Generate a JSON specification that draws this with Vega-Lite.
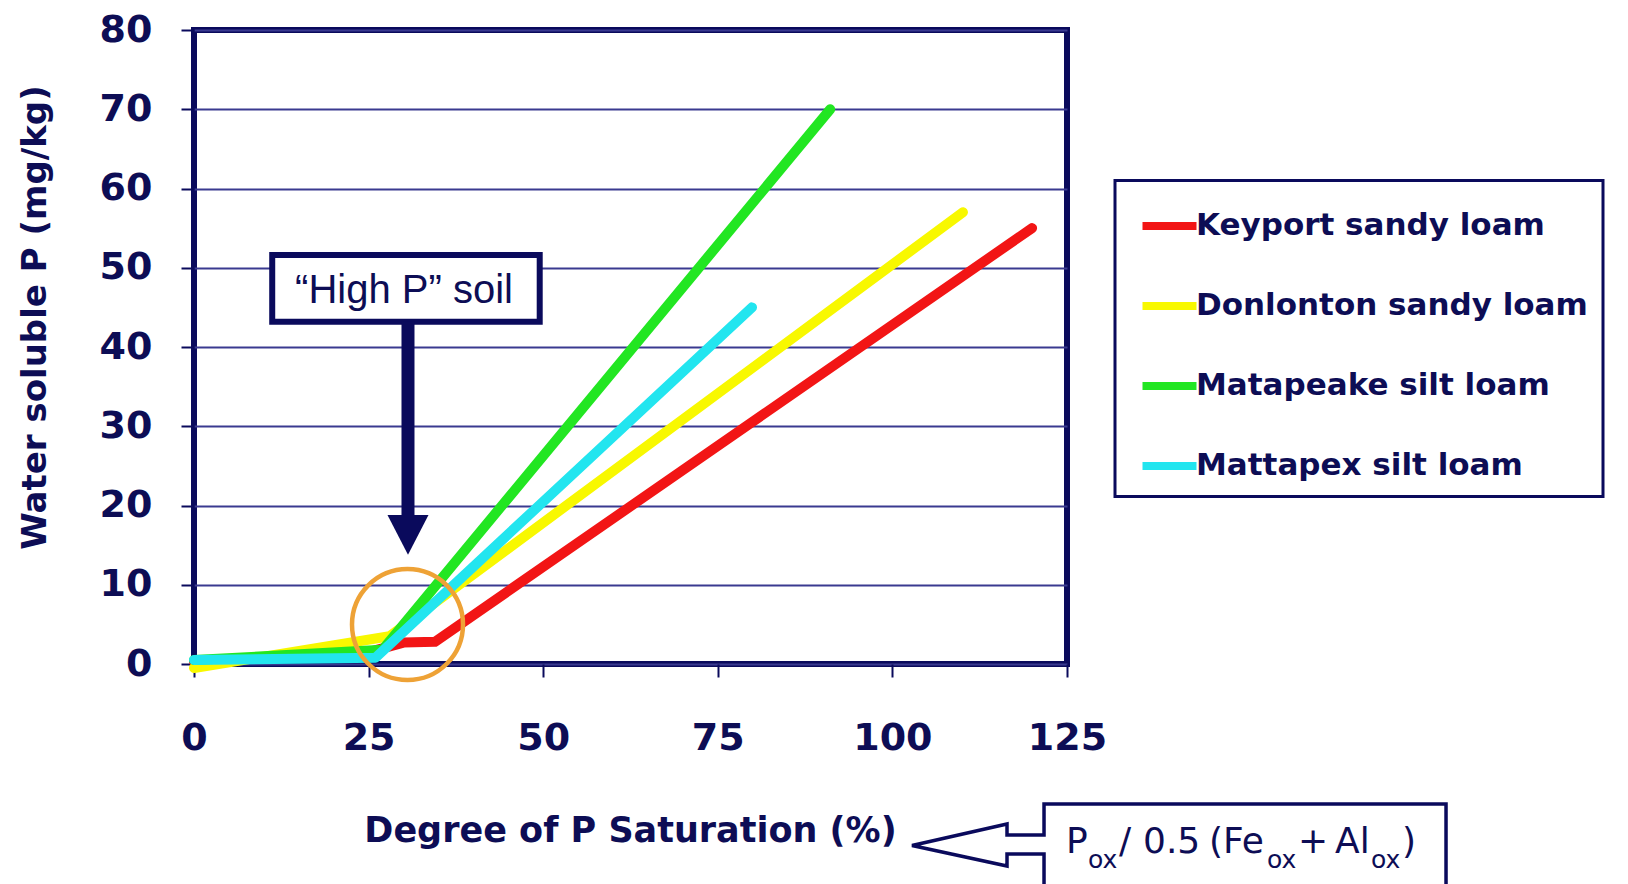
{
  "$schema": "https://vega.github.io/schema/vega-lite/v6.json",
  "width": 873,
  "height": 634,
  "autosize": {"type": "none"},
  "padding": {"left": 194, "top": 30, "right": 561, "bottom": 220},
  "background": "white",
  "config": {
    "view": {"stroke": "#0a0a5c", "strokeWidth": 6},
    "axis": {
      "domain": false,
      "tickColor": "#0a0a5c",
      "tickWidth": 2,
      "tickSize": 13,
      "labelFont": "DejaVu Sans",
      "labelFontWeight": "bold",
      "labelFontSize": 38,
      "labelColor": "#0d0d55",
      "titleFont": "DejaVu Sans",
      "titleFontWeight": "bold",
      "titleColor": "#0d0d55"
    },
    "legend": {"strokeWidth": 3}
  },
  "datasets": {
    "soil": [
      {"soil": "Keyport sandy loam", "x": 0, "y": 0.3},
      {"soil": "Keyport sandy loam", "x": 25, "y": 1.5},
      {"soil": "Keyport sandy loam", "x": 30, "y": 2.7},
      {"soil": "Keyport sandy loam", "x": 34.5, "y": 2.8},
      {"soil": "Keyport sandy loam", "x": 120, "y": 55},
      {"soil": "Donlonton sandy loam", "x": 0, "y": -0.5},
      {"soil": "Donlonton sandy loam", "x": 28, "y": 3.5},
      {"soil": "Donlonton sandy loam", "x": 110.1, "y": 57},
      {"soil": "Matapeake silt loam", "x": 0, "y": 0.5},
      {"soil": "Matapeake silt loam", "x": 27, "y": 1.8},
      {"soil": "Matapeake silt loam", "x": 91.1, "y": 70},
      {"soil": "Mattapex silt loam", "x": 0, "y": 0.5},
      {"soil": "Mattapex silt loam", "x": 26, "y": 0.8},
      {"soil": "Mattapex silt loam", "x": 79.9, "y": 45}
    ],
    "outline": [
      {"i": 1, "x": 121.71, "y": -29.15},
      {"i": 2, "x": 121.71, "y": -23.97},
      {"i": 3, "x": 116.41, "y": -23.97},
      {"i": 4, "x": 116.41, "y": -25.49},
      {"i": 5, "x": 102.81, "y": -22.9},
      {"i": 6, "x": 116.41, "y": -20.19},
      {"i": 7, "x": 116.41, "y": -21.58},
      {"i": 8, "x": 121.71, "y": -21.58},
      {"i": 9, "x": 121.71, "y": -17.67},
      {"i": 10, "x": 179.27, "y": -17.67},
      {"i": 11, "x": 179.27, "y": -29.15}
    ],
    "formulaMain": [
      {"x": 124.86, "y": -23.8, "label": "P"},
      {"x": 132.45, "y": -23.8, "label": "/"},
      {"x": 135.88, "y": -23.8, "label": "0.5"},
      {"x": 145.33, "y": -23.8, "label": "(Fe"},
      {"x": 158.08, "y": -23.8, "label": "+"},
      {"x": 163.38, "y": -23.8, "label": "Al"},
      {"x": 172.97, "y": -23.8, "label": ")"}
    ],
    "formulaSub": [
      {"x": 128.01, "y": -25.7, "label": "ox"},
      {"x": 153.64, "y": -25.7, "label": "ox"},
      {"x": 168.53, "y": -25.7, "label": "ox"}
    ]
  },
  "layer": [
    {
      "data": {"name": "soil"},
      "mark": {"type": "line", "strokeWidth": 10, "strokeCap": "round", "strokeJoin": "round"},
      "encoding": {
        "x": {
          "field": "x", "type": "quantitative",
          "scale": {"domain": [0, 125], "nice": false, "zero": false},
          "axis": {
            "values": [0, 25, 50, 75, 100, 125],
            "grid": false,
            "labelFlush": false,
            "title": "Degree of P Saturation (%)",
            "titleFontSize": 35,
            "titleX": 436,
            "titleY": 177,
            "titleAlign": "center",
            "titleBaseline": "alphabetic",
            "labelPadding": 42,
            "labelBaseline": "top"
          }
        },
        "y": {
          "field": "y", "type": "quantitative",
          "scale": {"domain": [0, 80], "nice": false, "zero": false},
          "axis": {
            "values": [0, 10, 20, 30, 40, 50, 60, 70, 80],
            "grid": true,
            "gridColor": "#3a3a90",
            "gridWidth": 1.8,
            "gridOpacity": 1,
            "labelFlush": false,
            "title": "Water soluble P (mg/kg)",
            "titleFontSize": 34,
            "titleX": -149,
            "titleY": 287,
            "titleAngle": 270,
            "titleAlign": "center",
            "titleBaseline": "alphabetic",
            "labelPadding": 29
          }
        },
        "color": {
          "field": "soil", "type": "nominal",
          "scale": {
            "domain": ["Keyport sandy loam", "Donlonton sandy loam", "Matapeake silt loam", "Mattapex silt loam"],
            "range": ["#f21515", "#f8f800", "#22e622", "#22e5ef"]
          },
          "legend": {
            "orient": "none",
            "legendX": 921,
            "legendY": 150.5,
            "title": null,
            "symbolType": "stroke",
            "symbolSize": 2916,
            "symbolStrokeWidth": 8,
            "symbolOffset": 9,
            "labelOffset": -4.5,
            "labelFont": "DejaVu Sans",
            "labelFontWeight": "bold",
            "labelFontSize": 31,
            "labelColor": "#0d0d55",
            "labelLimit": 600,
            "padding": 14.5,
            "rowPadding": 33,
            "strokeColor": "#0a0a5c",
            "fillColor": "white"
          }
        }
      }
    },
    {
      "data": {"values": [{"x": 11.2, "x2": 49.5, "y": 51.6, "y2": 43.2}]},
      "mark": {"type": "rect", "fill": "white", "stroke": "#0a0a5c", "strokeWidth": 6},
      "encoding": {
        "x": {"field": "x", "type": "quantitative"},
        "x2": {"field": "x2"},
        "y": {"field": "y", "type": "quantitative"},
        "y2": {"field": "y2"}
      }
    },
    {
      "data": {"values": [{"x": 30.07, "y": 45.55, "label": "“High P” soil"}]},
      "mark": {"type": "text", "font": "Liberation Sans", "fontSize": 40, "align": "center", "baseline": "alphabetic", "color": "#0d0d55"},
      "encoding": {
        "x": {"field": "x", "type": "quantitative"},
        "y": {"field": "y", "type": "quantitative"},
        "text": {"field": "label"}
      }
    },
    {
      "data": {"values": [{"x": 30.64, "y": 43.2, "y2": 18.3}]},
      "mark": {"type": "rule", "strokeWidth": 13, "color": "#0a0a5c"},
      "encoding": {
        "x": {"field": "x", "type": "quantitative"},
        "y": {"field": "y", "type": "quantitative"},
        "y2": {"field": "y2"}
      }
    },
    {
      "data": {"values": [{"x": 30.64, "y": 16.28}]},
      "mark": {"type": "point", "shape": "M-1,-0.97L1,-0.97L0,0.97Z", "size": 1681, "filled": true, "color": "#0a0a5c", "opacity": 1},
      "encoding": {
        "x": {"field": "x", "type": "quantitative"},
        "y": {"field": "y", "type": "quantitative"}
      }
    },
    {
      "data": {"values": [{"x": 30.57, "y": 4.98}]},
      "mark": {"type": "point", "shape": "circle", "size": 12321, "filled": false, "stroke": "#eea236", "strokeWidth": 4.5, "opacity": 1},
      "encoding": {
        "x": {"field": "x", "type": "quantitative"},
        "y": {"field": "y", "type": "quantitative"}
      }
    },
    {
      "data": {"name": "outline"},
      "mark": {"type": "line", "color": "#0a0a5c", "strokeWidth": 3.5, "strokeJoin": "miter"},
      "encoding": {
        "x": {"field": "x", "type": "quantitative"},
        "y": {"field": "y", "type": "quantitative"},
        "order": {"field": "i", "type": "quantitative"}
      }
    },
    {
      "data": {"name": "formulaMain"},
      "mark": {"type": "text", "font": "DejaVu Sans", "fontSize": 36, "align": "left", "baseline": "alphabetic", "color": "#0d0d55"},
      "encoding": {
        "x": {"field": "x", "type": "quantitative"},
        "y": {"field": "y", "type": "quantitative"},
        "text": {"field": "label"}
      }
    },
    {
      "data": {"name": "formulaSub"},
      "mark": {"type": "text", "font": "DejaVu Sans", "fontSize": 25, "align": "left", "baseline": "alphabetic", "color": "#0d0d55"},
      "encoding": {
        "x": {"field": "x", "type": "quantitative"},
        "y": {"field": "y", "type": "quantitative"},
        "text": {"field": "label"}
      }
    }
  ]
}
